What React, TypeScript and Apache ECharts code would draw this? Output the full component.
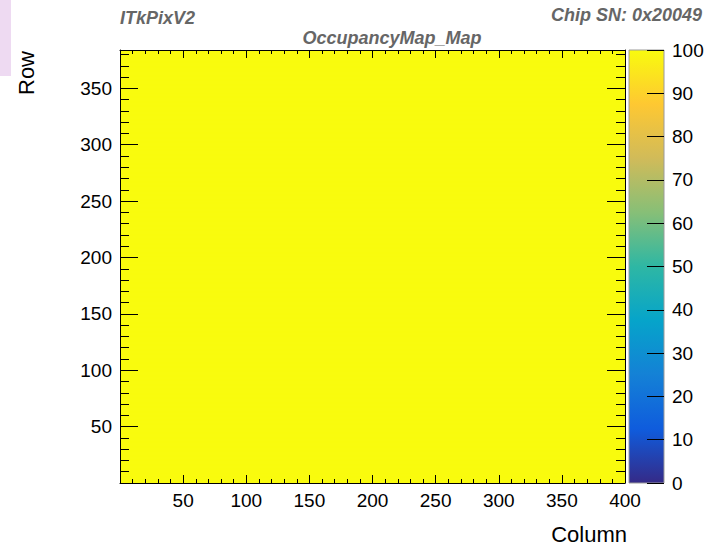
import React, { useEffect, useRef } from "react";
import * as echarts from "echarts";

// Chip geometry: pixel matrix of 400 columns x 384 rows
const N_COLUMNS = 400;
const N_ROWS = 384;

// Occupancy (%) of every row; each row is fully occupied across all columns
const rowOccupancy: number[] = new Array(N_ROWS).fill(100);

// Colour-bar range and ticks
const Z_MIN = 0;
const Z_MAX = 100;
const Z_STEP = 10;

// kBird palette stops (equally spaced from 0 to 1)
const paletteColors = [
  "#352A87",
  "#0F5CDD",
  "#1481D6",
  "#06A4CA",
  "#2EB7A4",
  "#87BF77",
  "#D1BB59",
  "#FEC832",
  "#F9FB0E",
];

const chipName = "ITkPixV2";
const chipSerial = "Chip SN: 0x20049";
const histTitle = "OccupancyMap_Map";
const xTitle = "Column";
const yTitle = "Row";

const FONT = "'Liberation Sans', Arial, Helvetica, sans-serif";

export default function App() {
  const ref = useRef<HTMLDivElement>(null);

  useEffect(() => {
    if (!ref.current) return;
    const chart = echarts.init(ref.current, undefined, { renderer: "svg" });

    // One run per row: [startColumn, endColumn, row, occupancy]
    const runs = rowOccupancy.map((v, r) => [0, N_COLUMNS, r, v]);

    const axisLabel = { color: "#000", fontSize: 19, fontFamily: FONT };
    const frameLine = { show: true, onZero: false, lineStyle: { color: "#000", width: 1 } };

    const xAxisBase = {
      type: "value" as const,
      min: 0,
      max: N_COLUMNS,
      interval: 50,
      gridIndex: 0,
      z: 10,
      axisLine: frameLine,
      axisTick: { show: true, inside: true, length: 8, lineStyle: { color: "#000" } },
      minorTick: { show: true, splitNumber: 5, length: 4, lineStyle: { color: "#000" } },
      splitLine: { show: false },
    };
    const yAxisBase = {
      type: "value" as const,
      min: 0,
      max: N_ROWS,
      interval: 50,
      gridIndex: 0,
      z: 10,
      axisLine: frameLine,
      axisTick: { show: true, inside: true, length: 18, lineStyle: { color: "#000" } },
      minorTick: { show: true, splitNumber: 5, length: 9, lineStyle: { color: "#000" } },
      splitLine: { show: false },
    };

    const gradientStops = paletteColors.map((c, i) => ({
      offset: i / (paletteColors.length - 1),
      color: c,
    }));

    chart.setOption({
      animation: false,
      backgroundColor: "#fff",
      grid: [
        { left: 120, top: 50, width: 505, height: 433, show: false },
        { left: 629, top: 50, width: 35, height: 433, show: false },
      ],
      xAxis: [
        {
          ...xAxisBase,
          position: "bottom",
          axisLabel: { ...axisLabel, margin: 8, showMinLabel: false, showMaxLabel: true },
        },
        { ...xAxisBase, position: "top", axisLabel: { show: false } },
        { type: "value", gridIndex: 1, min: 0, max: 1, show: false },
      ],
      yAxis: [
        {
          ...yAxisBase,
          position: "left",
          axisLabel: { ...axisLabel, margin: 8, showMinLabel: false, showMaxLabel: false },
        },
        { ...yAxisBase, position: "right", axisLabel: { show: false } },
        {
          type: "value",
          gridIndex: 1,
          min: Z_MIN,
          max: Z_MAX,
          interval: Z_STEP,
          position: "right",
          z: 10,
          axisLine: { show: false, onZero: false },
          axisTick: { show: true, inside: true, length: 17, lineStyle: { color: "#000" } },
          axisLabel: { ...axisLabel, margin: 8 },
          splitLine: { show: false },
        },
      ],
      visualMap: {
        type: "continuous",
        show: false,
        min: Z_MIN,
        max: Z_MAX,
        dimension: 3,
        seriesIndex: 0,
        inRange: { color: paletteColors },
      },
      series: [
        {
          type: "custom",
          xAxisIndex: 0,
          yAxisIndex: 0,
          clip: true,
          z: 1,
          data: runs,
          renderItem: (_params: any, api: any) => {
            const c0 = api.value(0);
            const c1 = api.value(1);
            const row = api.value(2);
            const pTop = api.coord([c0, row + 1]);
            const pBot = api.coord([c1, row]);
            return {
              type: "rect",
              shape: {
                x: pTop[0],
                y: pTop[1] - 0.4,
                width: pBot[0] - pTop[0],
                height: pBot[1] - pTop[1] + 0.8,
              },
              style: { fill: api.visual("color") },
            };
          },
        },
        {
          type: "custom",
          xAxisIndex: 2,
          yAxisIndex: 2,
          z: 1,
          data: [[0, 1, Z_MIN, Z_MAX]],
          renderItem: (_params: any, api: any) => {
            const p0 = api.coord([api.value(0), api.value(3)]);
            const p1 = api.coord([api.value(1), api.value(2)]);
            return {
              type: "rect",
              shape: { x: p0[0], y: p0[1], width: p1[0] - p0[0], height: p1[1] - p0[1] },
              style: {
                fill: {
                  type: "linear",
                  x: 0,
                  y: 1,
                  x2: 0,
                  y2: 0,
                  colorStops: gradientStops,
                },
                stroke: "#9a9a9a",
                lineWidth: 1,
              },
            };
          },
        },
      ],
      graphic: [
        {
          type: "rect",
          shape: { x: 0, y: 0, width: 11, height: 76 },
          style: { fill: "#EEDAF2" },
          silent: true,
        },
        {
          type: "text",
          x: 120,
          y: 18,
          style: {
            text: chipName,
            font: `italic bold 18px ${FONT}`,
            fill: "#666",
            align: "left",
            verticalAlign: "middle",
          },
        },
        {
          type: "text",
          x: 702,
          y: 15,
          style: {
            text: chipSerial,
            font: `italic bold 18px ${FONT}`,
            fill: "#666",
            align: "right",
            verticalAlign: "middle",
          },
        },
        {
          type: "text",
          x: 392,
          y: 38,
          style: {
            text: histTitle,
            font: `italic bold 18px ${FONT}`,
            fill: "#666",
            align: "center",
            verticalAlign: "middle",
          },
        },
        {
          type: "text",
          x: 26,
          y: 73,
          rotation: Math.PI / 2,
          style: {
            text: yTitle,
            font: `22px ${FONT}`,
            fill: "#000",
            align: "center",
            verticalAlign: "middle",
          },
        },
        {
          type: "text",
          x: 627,
          y: 534,
          style: {
            text: xTitle,
            font: `22px ${FONT}`,
            fill: "#000",
            align: "right",
            verticalAlign: "middle",
          },
        },
      ],
    });

    return () => chart.dispose();
  }, []);

  return (
    <div
      ref={ref}
      style={{ position: "fixed", left: 0, top: 0, width: 713, height: 545 }}
    />
  );
}
